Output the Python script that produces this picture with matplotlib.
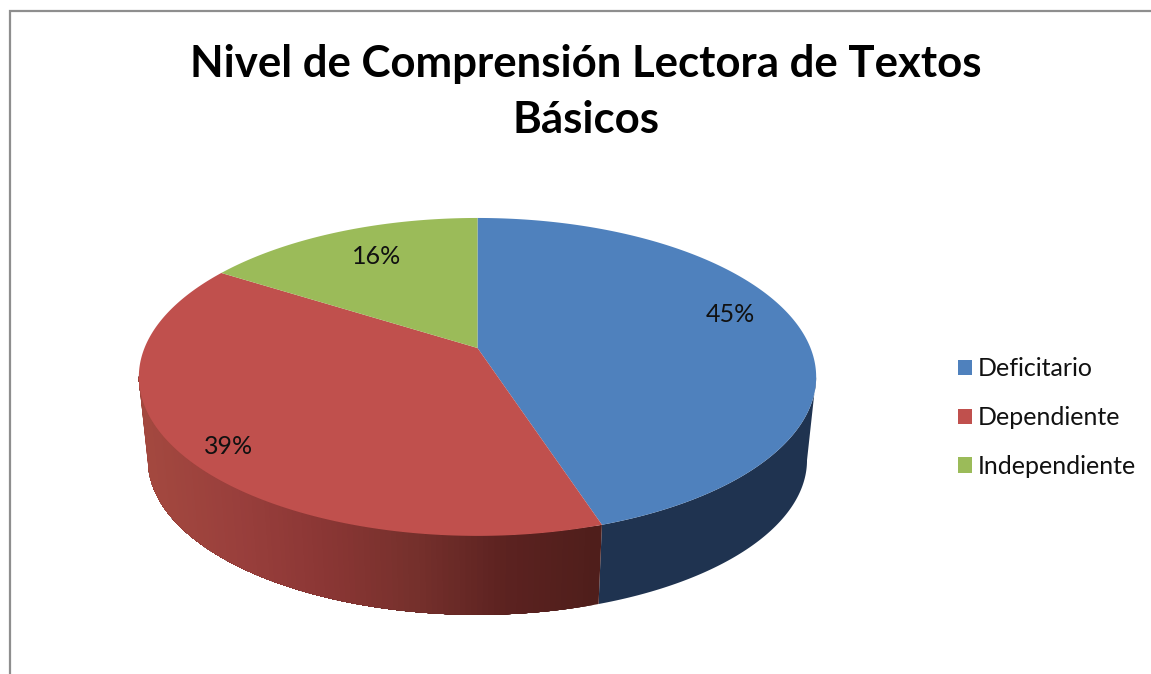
import numpy as np
import matplotlib
matplotlib.use("Agg")
import matplotlib.pyplot as plt
from matplotlib.patches import Patch
from matplotlib.colors import LinearSegmentedColormap

categories = ["Deficitario", "Dependiente", "Independiente"]
values = [45, 39, 16]
colors = ["#4f81bd", "#c0504d", "#9bbb59"]
title_lines = "Nivel de Comprensión Lectora de Textos\nBásicos"

W, H = 1151, 674
fig = plt.figure(figsize=(W / 100, H / 100), dpi=100, facecolor="white")
ax = fig.add_axes([0, 0, 1, 1])
ax.set_xlim(0, W)
ax.set_ylim(H, 0)
ax.axis("off")

# Perspective projection of the pie disc
CX, CY = 477.5, 348.0
A, B, K = 333.0, 153.7, 0.182
DEPTH, BOTTOM_SCALE = 84.0, 0.973


def project(theta, scale=1.0, dy=0.0):
    s, c = np.sin(theta), np.cos(theta)
    d = 1 + K * c
    return CX + scale * A * s / d, CY + dy - scale * B * c / d


bounds = np.concatenate([[0], np.cumsum(values)]) / np.sum(values) * 2 * np.pi

red_ramp = LinearSegmentedColormap.from_list(
    "wall", ["#a3483f", "#993f3c", "#8a3634", "#75302c", "#5c2220", "#4f1e1b"]
)
blue_wall = "#1f3350"

# Visible front of the rim: between the two silhouette angles of the projected disc
side_start = np.arccos(-K)
side_end = 2 * np.pi - side_start

# Side walls: each strip runs to the slice's far end and the next strip paints over it,
# so no seams appear between neighbouring strips.
for i, (t0, t1) in enumerate(zip(bounds[:-1], bounds[1:])):
    lo, hi = max(t0, side_start), min(t1, side_end)
    if lo >= hi:
        continue
    th = np.linspace(lo, hi, 120)
    starts = th[:1] if i == 0 else th[:-1]
    for a in starts:
        seg = np.linspace(a, hi, 200)
        x1, y1 = project(seg)
        x2, y2 = project(seg[::-1], BOTTOM_SCALE, DEPTH)
        if i == 0:
            col = blue_wall
        else:
            xa, _ = project(np.array([a]))
            col = red_ramp(np.clip((xa[0] - 148) / (600 - 148), 0, 1))
        ax.fill(np.r_[x1, x2], np.r_[y1, y2], color=col, lw=0, zorder=2)

# Top of the pie
for t0, t1, col in zip(bounds[:-1], bounds[1:], colors):
    th = np.linspace(t0, t1, 300)
    x, y = project(th)
    ax.fill(np.r_[CX, x], np.r_[CY, y], color=col, lw=0, zorder=3, antialiased=True)

# Data labels
label_pos = [(730, 315), (229, 446), (377, 256)]
for v, (lx, ly) in zip(values, label_pos):
    ax.text(lx, ly, f"{v}%", ha="center", va="center", fontsize=18,
            family="Lato", color="#111111", zorder=5)

# Title
ax.text(586, 92, title_lines, ha="center", va="center", fontsize=31.5,
        family="Lato", weight="bold", color="black", linespacing=1.5, zorder=5)

# Legend
handles = [Patch(facecolor=c, edgecolor="none", label=n) for c, n in zip(colors, categories)]
ax.legend(handles=handles, loc="center left", bbox_to_anchor=(958, 417.5),
          bbox_transform=ax.transData, frameon=False, prop={"family": "Lato", "size": 18},
          handlelength=0.56, handleheight=0.56, handletextpad=0.24, labelspacing=1.03,
          labelcolor="#111111", borderpad=0, borderaxespad=0)

# Chart-area frame
ax.plot([10.5, 10.5, W], [H, 10.5, 10.5], color="#8e8e8e", lw=1.6, zorder=1,
        solid_joinstyle="miter", clip_on=False)

fig.savefig("out.png", dpi=100, facecolor="white")
